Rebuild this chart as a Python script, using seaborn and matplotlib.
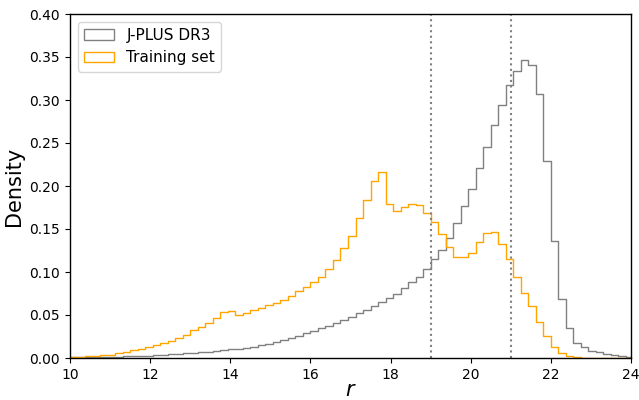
import numpy as np
import pandas as pd
import seaborn as sns
import matplotlib
matplotlib.use("Agg")
import matplotlib.pyplot as plt
import matplotlib.patches as mpatches

# bin layout: 75 bins of width 0.1875 starting at r = 10
bin_start = 10.0
bin_width = 0.1875
n_bins = 75

jplus_density = [0.0006, 0.0007, 0.0009, 0.0010, 0.0012, 0.0014, 0.0016, 0.0019, 0.0022, 0.0025,
                 0.0029, 0.0033, 0.0038, 0.0043, 0.0048, 0.0054, 0.0060, 0.0067, 0.0074, 0.0082,
                 0.0091, 0.0100, 0.0110, 0.0121, 0.0133, 0.0147, 0.0163, 0.0185,
                 0.021, 0.0229, 0.026, 0.0287, 0.031, 0.0345, 0.0376, 0.041, 0.044, 0.048,
                 0.052, 0.056, 0.060, 0.065, 0.070, 0.075, 0.081, 0.088, 0.0946, 0.103,
                 0.115, 0.126, 0.140, 0.157, 0.177, 0.196, 0.221, 0.245, 0.271, 0.294,
                 0.318, 0.334, 0.347, 0.341, 0.307, 0.229, 0.136,
                 0.069, 0.0345, 0.018, 0.0124, 0.0085, 0.0066, 0.005, 0.0039, 0.0027, 0.0015]

training_density = [0.0008, 0.0012, 0.002, 0.0025, 0.0031, 0.0039, 0.0054, 0.007, 0.0089, 0.0109,
                    0.0128, 0.0147, 0.017, 0.0198, 0.0236, 0.027, 0.0322, 0.0357, 0.0412, 0.047,
                    0.053, 0.0545, 0.0496, 0.052, 0.0556, 0.0578, 0.0612, 0.0636,
                    0.068, 0.0725, 0.078, 0.083, 0.088, 0.0946, 0.1035, 0.114, 0.128, 0.142,
                    0.163, 0.184, 0.206, 0.216, 0.179, 0.171, 0.176, 0.179, 0.178, 0.169,
                    0.158, 0.144, 0.129, 0.118, 0.117, 0.122, 0.135, 0.145, 0.146, 0.133,
                    0.115, 0.0946, 0.076, 0.060, 0.0415, 0.0256, 0.0124,
                    0.0054, 0.0023, 0.001, 0.0005, 0.0003, 0.0002, 0.0001, 0.0001, 0.0, 0.0]

labels = ["J-PLUS DR3", "Training set"]
colors = ["gray", "orange"]
cut_lines = [19, 21]
x_ticks = [10, 12, 14, 16, 18, 20, 22, 24]
y_ticks = [0.00, 0.05, 0.10, 0.15, 0.20, 0.25, 0.30, 0.35, 0.40]

edges = [float(bin_start + bin_width * k) for k in range(n_bins + 1)]
centers = [0.5 * (edges[k] + edges[k + 1]) for k in range(n_bins)]

plt.rcParams['font.family'] = ['DejaVu Sans']

fig = plt.figure(figsize=(6.39, 4.0), dpi=100)
ax = fig.add_axes([0.1095, 0.105, 0.878, 0.86])

for dens, lab, col in zip([jplus_density, training_density], labels, colors):
    df = pd.DataFrame({"r": centers, "w": dens})
    sns.histplot(data=df, x="r", weights="w", bins=edges, element="step",
                 fill=False, color=col, linewidth=1.0, ax=ax, stat="count")

for xv in cut_lines:
    ax.axvline(xv, color="gray", linestyle=":", linewidth=1.5)

ax.set_xlim(10, 24)
ax.set_ylim(0, 0.40)
ax.set_xticks(x_ticks)
ax.set_yticks(y_ticks)
ax.set_yticklabels([f"{v:.2f}" for v in y_ticks])
ax.tick_params(labelsize=10, colors="black")
for s in ax.spines.values():
    s.set_visible(True)
    s.set_linewidth(1.0)
    s.set_color("black")
ax.set_xlabel("$r$", fontsize=15, labelpad=-1)
ax.set_ylabel("Density", fontsize=15, labelpad=4)

handles = [mpatches.Patch(facecolor="none", edgecolor=c, label=l) for c, l in zip(colors, labels)]
ax.legend(handles=handles, loc="upper left", fontsize=11, frameon=True)

fig.savefig("out.png", dpi=100)
